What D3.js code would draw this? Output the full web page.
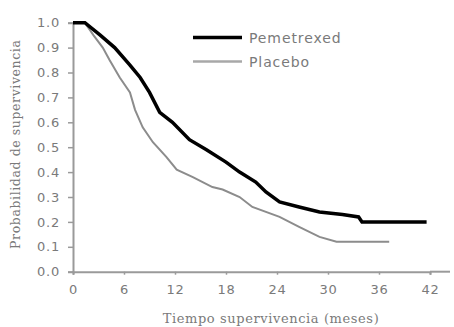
<!DOCTYPE html>
<html><head><meta charset="utf-8">
<script src="https://cdn.jsdelivr.net/npm/d3@7"></script>
<style>body{margin:0;background:#fff}</style>
</head><body>
<svg id="c" width="454" height="327"></svg>
<script>
const xTicks = [0, 6, 12, 18, 24, 30, 36, 42];
const yTicks = [0, 0.1, 0.2, 0.3, 0.4, 0.5, 0.6, 0.7, 0.8, 0.9, 1.0];
const pemMonths = [0, 1.4, 3.2, 4.9, 6.7, 7.9, 9.0, 10.2, 11.7, 13.7, 15.7, 18.0, 19.6, 21.5, 22.7, 24.3, 26.6, 29.0, 31.7, 33.6, 34.0, 41.6];
const pemSurv   = [1.0, 1.0, 0.95, 0.90, 0.83, 0.78, 0.72, 0.64, 0.60, 0.53, 0.49, 0.44, 0.40, 0.36, 0.32, 0.28, 0.26, 0.24, 0.23, 0.22, 0.20, 0.20];
const plaMonths = [0, 1.4, 2.4, 3.5, 4.3, 5.5, 6.7, 7.3, 8.2, 9.4, 11.0, 12.2, 14.1, 16.4, 17.6, 19.6, 21.1, 24.3, 26.6, 29.0, 31.0, 37.2];
const plaSurv   = [1.0, 1.0, 0.95, 0.90, 0.85, 0.78, 0.72, 0.65, 0.58, 0.52, 0.46, 0.41, 0.38, 0.34, 0.33, 0.30, 0.26, 0.22, 0.18, 0.14, 0.12, 0.12];
const seriesNames = ["Pemetrexed", "Placebo"];
const xTitle = "Tiempo supervivencia (meses)";
const yTitle = "Probabilidad de supervivencia";

const svg = d3.select("#c");
const x = d3.scaleLinear().domain([0, 42]).range([73, 430]);
const y = d3.scaleLinear().domain([0, 1]).range([271.7, 22.7]);
const axisCol = "#9a9a9a", textCol = "#7a7a7a";
const sans = "DejaVu Sans, Verdana, sans-serif", serif = "DejaVu Serif, serif";

// axes
const xa = svg.append("g").attr("transform", `translate(0,${y(0)})`)
  .call(d3.axisBottom(x).tickValues(xTicks).tickSize(3).tickPadding(10).tickFormat(d3.format("d")));
const ya = svg.append("g").attr("transform", `translate(${x(0)},0)`)
  .call(d3.axisLeft(y).tickValues(yTicks).tickSize(5).tickPadding(8).tickFormat(d3.format(".1f")));
[xa, ya].forEach(a => {
  a.select(".domain").attr("stroke", axisCol).attr("stroke-width", 2);
  a.selectAll(".tick line").attr("stroke", axisCol).attr("stroke-width", 1.5);
  a.selectAll(".tick text").attr("fill", textCol).style("font-family", sans).style("font-size", "13px").style("letter-spacing", "0.8px");
});
// extend x axis line to the right as in the reference
xa.append("line").attr("x1", x(42)).attr("x2", 450).attr("y1", 0).attr("y2", 0).attr("stroke", axisCol).attr("stroke-width", 2);

const line = d3.line().x(d => x(d[0])).y(d => y(d[1]));
const pem = pemMonths.map((m, i) => [m, pemSurv[i]]);
const pla = plaMonths.map((m, i) => [m, plaSurv[i]]);
svg.append("path").attr("d", line(pla)).attr("fill", "none").attr("stroke", "#8c8c8c").attr("stroke-width", 2);
svg.append("path").attr("d", line(pem)).attr("fill", "none").attr("stroke", "#000").attr("stroke-width", 3.5);

// legend
const lg = svg.append("g");
const legStyles = [{c: "#000", w: 3.5}, {c: "#a8a8a8", w: 2.5}];
seriesNames.forEach((n, i) => {
  const yy = 37.5 + i * 24;
  lg.append("line").attr("x1", 193).attr("x2", 242).attr("y1", yy).attr("y2", yy)
    .attr("stroke", legStyles[i].c).attr("stroke-width", legStyles[i].w);
  lg.append("text").attr("x", 249).attr("y", yy + 5).text(n)
    .attr("fill", textCol).style("font-family", sans).style("font-size", "14px").style("letter-spacing", "0.9px");
});

// titles
svg.append("text").attr("x", 271).attr("y", 323).attr("text-anchor", "middle").text(xTitle)
  .attr("fill", textCol).style("font-family", serif).style("font-size", "13px").style("letter-spacing", "0.6px");
svg.append("text").attr("transform", `translate(20,${(y(0) + y(1)) / 2 - 3}) rotate(-90)`).attr("text-anchor", "middle").text(yTitle)
  .attr("fill", textCol).style("font-family", serif).style("font-size", "12.5px").style("letter-spacing", "0.6px");
</script>
</body></html>
